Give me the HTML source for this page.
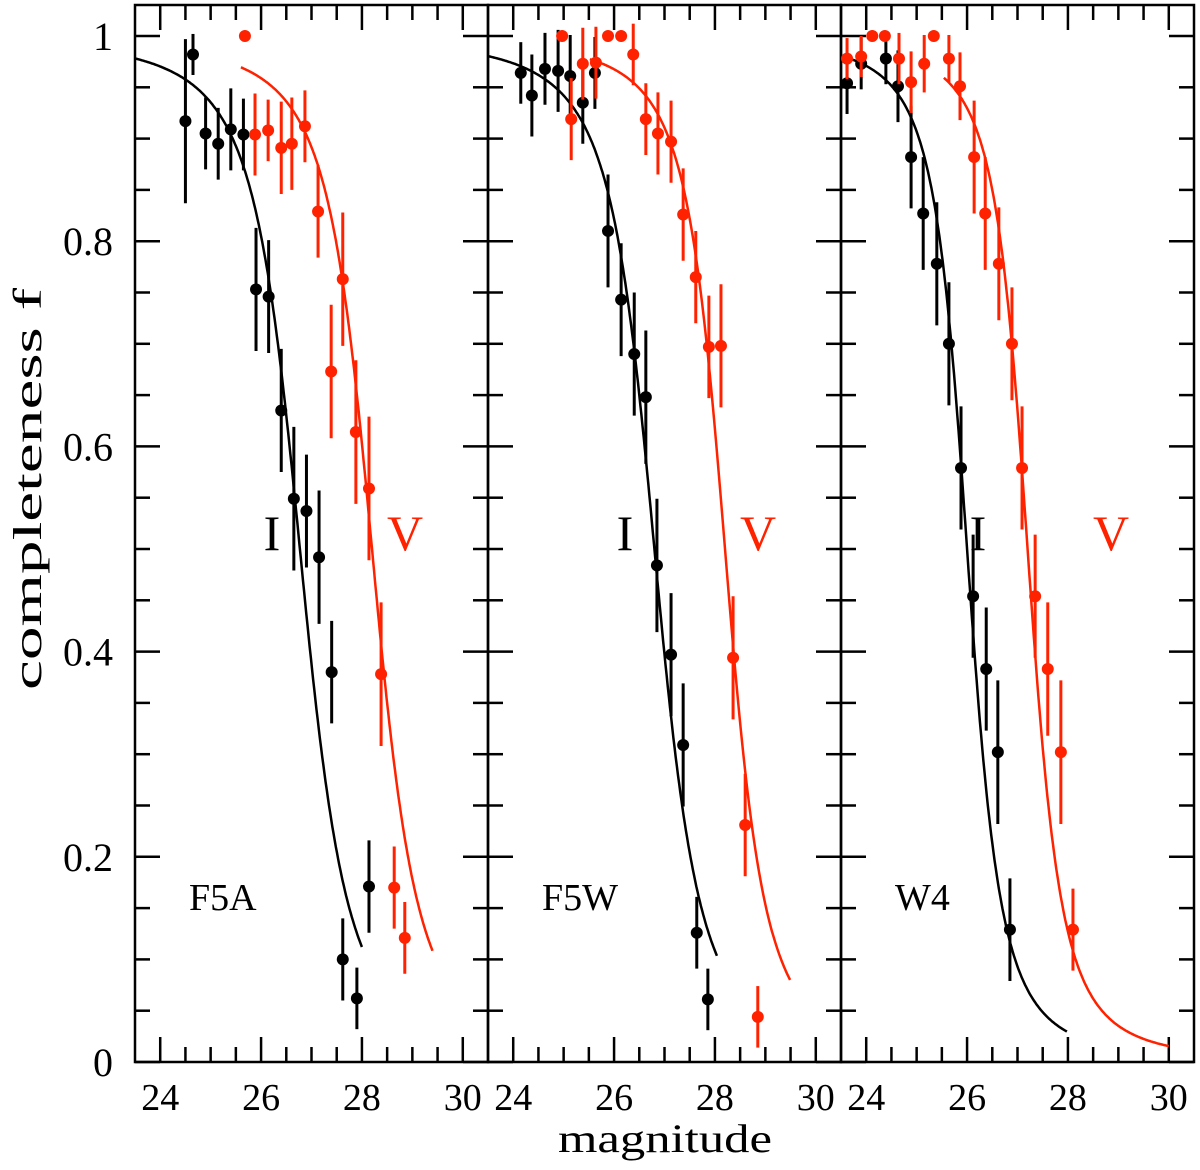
<!DOCTYPE html>
<html><head><meta charset="utf-8">
<style>
html,body{margin:0;padding:0;background:#fff;}
svg{display:block;}
text{font-family:"Liberation Serif",serif;}
</style></head>
<body>
<svg id="chart" width="1200" height="1170" viewBox="0 0 1200 1170" xmlns="http://www.w3.org/2000/svg">
<g id="axes"></g>
<g id="marks"></g>
<text x="0" y="0" transform="translate(41,489) rotate(-90)" text-anchor="middle" font-size="40" textLength="402" lengthAdjust="spacingAndGlyphs">completeness f</text>
<text x="665" y="1152" text-anchor="middle" font-size="40" textLength="214" lengthAdjust="spacingAndGlyphs">magnitude</text>
</svg>
<script>
const panelNames = ["F5A","F5W","W4"];
const yTickLabels = ["0","0.2","0.4","0.6","0.8","1"];
const yTickValues = [0,0.2,0.4,0.6,0.8,1];
const xTickValues = [24,26,28,30];
const xTickLabels = ["24","26","28","30"];

const iMag1 = [24.5,24.65,24.9,25.15,25.4,25.65,25.9,26.15,26.4,26.65,26.9,27.15,27.4,27.62,27.9,28.14];
const iF1   = [0.917,0.982,0.905,0.895,0.909,0.904,0.753,0.746,0.635,0.549,0.537,0.492,0.38,0.1,0.062,0.171];
const iE1   = [0.08,0.02,0.035,0.035,0.04,0.035,0.06,0.055,0.06,0.07,0.055,0.065,0.05,0.04,0.03,0.045];
const vMag1 = [25.68,25.88,26.14,26.4,26.61,26.87,27.13,27.39,27.62,27.88,28.14,28.38,28.64,28.85];
const vF1   = [1.0,0.904,0.908,0.891,0.895,0.912,0.829,0.673,0.763,0.614,0.559,0.378,0.17,0.121];
const vE1   = [0,0.04,0.03,0.045,0.045,0.035,0.045,0.065,0.065,0.07,0.07,0.07,0.04,0.035];

const iMag2 = [24.15,24.37,24.63,24.89,25.13,25.38,25.62,25.88,26.14,26.4,26.63,26.85,27.13,27.37,27.64,27.86];
const iF2   = [0.964,0.942,0.968,0.966,0.961,0.935,0.964,0.81,0.743,0.69,0.648,0.484,0.397,0.309,0.126,0.061];
const iE2   = [0.03,0.04,0.035,0.04,0.04,0.04,0.035,0.055,0.055,0.06,0.065,0.065,0.06,0.06,0.035,0.03];
const vMag2 = [24.97,25.15,25.38,25.64,25.88,26.14,26.38,26.63,26.87,27.13,27.37,27.62,27.88,28.12,28.36,28.6,28.85];
const vF2   = [1,0.919,0.973,0.974,1,1,0.982,0.919,0.905,0.897,0.826,0.765,0.697,0.698,0.394,0.231,0.044];
const vE2   = [0,0.04,0.035,0.035,0,0,0.03,0.035,0.04,0.04,0.045,0.045,0.05,0.06,0.06,0.05,0.03];

const iMag3 = [23.62,23.9,24.39,24.63,24.89,25.13,25.4,25.64,25.88,26.12,26.38,26.61,26.85];
const iF3   = [0.954,0.973,0.978,0.951,0.882,0.827,0.778,0.7,0.579,0.454,0.383,0.302,0.129];
const iE3   = [0.03,0.025,0.025,0.035,0.05,0.055,0.06,0.06,0.06,0.06,0.06,0.07,0.05];
const vMag3 = [23.62,23.9,24.12,24.37,24.65,24.89,25.15,25.34,25.64,25.86,26.14,26.36,26.63,26.89,27.09,27.35,27.6,27.86,28.1];
const vF3   = [0.978,0.98,1,1,0.978,0.955,0.973,1,0.978,0.951,0.882,0.827,0.778,0.7,0.579,0.454,0.383,0.302,0.129];
const vE3   = [0.02,0.02,0,0,0.025,0.03,0.028,0,0.023,0.033,0.055,0.055,0.055,0.055,0.06,0.06,0.065,0.07,0.04];

// fit parameters: [m50, alpha, mStart, mEnd]
const iFit = [[26.77,1.0,23.5,28.0],[26.8,1.05,23.5,28.04],[26.0,1.4,23.5,27.98]];
const vFit = [[28.2,1.05,25.6,29.4],[28.2,1.2,25.52,29.49],[27.2,1.4,25.54,30.0]];

const NS="http://www.w3.org/2000/svg";
const panelLeft=[135,488,841], panelW=353, plotTop=5, plotBottom=1062;
const xMin=23.5, xMax=30.5;
function xs(p,m){return panelLeft[p]+(m-xMin)/(xMax-xMin)*panelW;}
function ys(f){return plotBottom-f*1026;}
function el(tag,attrs,parent){const e=document.createElementNS(NS,tag);for(const k in attrs)e.setAttribute(k,attrs[k]);parent.appendChild(e);return e;}
const axesG=document.getElementById('axes'), marksG=document.getElementById('marks');
const RED="#ff2200";

for(let p=0;p<3;p++){
  const L=panelLeft[p], R=L+panelW;
  const g=el('g',{},axesG);
  
  
  const fr=el('rect',{x:L,y:plotTop,width:panelW,height:plotBottom-plotTop,fill:'none',stroke:'#000','stroke-width':2.5},g);
  
  
  for(let k=0;k<=20;k++){
    const v=k*0.05, y=ys(v), len=(k%4===0)?25:15;
    el('line',{x1:L,y1:y,x2:L+len,y2:y,stroke:'#000','stroke-width':2.5},g);
    el('line',{x1:R,y1:y,x2:R-len,y2:y,stroke:'#000','stroke-width':2.5},g);
  }
  for(let k=0;k<=12;k++){
    const m=24+k*0.5; if(m>30.5) break;
    const x=xs(p,m), len=(k%4===0)?25:15;
    el('line',{x1:x,y1:plotBottom,x2:x,y2:plotBottom-len,stroke:'#000','stroke-width':2.5},g);
    el('line',{x1:x,y1:plotTop,x2:x,y2:plotTop+len,stroke:'#000','stroke-width':2.5},g);
  }
  xTickValues.forEach((v,i)=>{
    const t=el('text',{x:xs(p,v),y:1110,'text-anchor':'middle','font-size':38},g);
    t.textContent=xTickLabels[i];
    
    
  });
  const pn=el('text',{x:L+54,y:910,'font-size':38,'font-family':'Liberation Mono, monospace'},g);
  pn.textContent=panelNames[p];
  
  
  const il=el('text',{x:L+137,y:550,'text-anchor':'middle','font-size':50},g);
  il.textContent='I';
  
  
  const vl=el('text',{x:L+270,y:550,'text-anchor':'middle','font-size':50,fill:RED},g);
  vl.textContent='V';
  
  
}
yTickValues.forEach((v,i)=>{
  const t=el('text',{x:113,y:ys(v)+14,'text-anchor':'end','font-size':40},axesG);
  t.textContent=yTickLabels[i];
  
  
});

function fleming(m,m50,a){const d=m-m50;return 0.5*(1-a*d/Math.sqrt(1+a*a*d*d));}
function drawCurve(p,fit,color,name){
  const [m50,a,m0,m1]=fit; let d='';
  for(let i=0;i<=200;i++){const m=m0+(m1-m0)*i/200;d+=(i?'L':'M')+xs(p,m).toFixed(1)+','+ys(fleming(m,m50,a)).toFixed(1);}
  const path=el('path',{d:d,fill:'none',stroke:color,'stroke-width':2.5},marksG);
  
  
}
function drawPoints(p,mags,fs,es,color,name){
  mags.forEach((m,i)=>{
    const x=xs(p,m), y=ys(fs[i]);
    if(es[i]>0){
      const ln=el('line',{x1:x,y1:ys(fs[i]+es[i]),x2:x,y2:ys(fs[i]-es[i]),stroke:color,'stroke-width':3},marksG);
      
      
    }
    const c=el('circle',{cx:x,cy:y,r:6,fill:color},marksG);
    
    
  });
}
const iM=[iMag1,iMag2,iMag3], iFv=[iF1,iF2,iF3], iEv=[iE1,iE2,iE3];
const vM=[vMag1,vMag2,vMag3], vFv=[vF1,vF2,vF3], vEv=[vE1,vE2,vE3];
for(let p=0;p<3;p++){
  drawCurve(p,iFit[p],'#000','i-fit-curve');
  drawCurve(p,vFit[p],RED,'v-fit-curve');
  drawPoints(p,iM[p],iFv[p],iEv[p],'#000','i-band');
  drawPoints(p,vM[p],vFv[p],vEv[p],RED,'v-band');
}
</script>
</body></html>
